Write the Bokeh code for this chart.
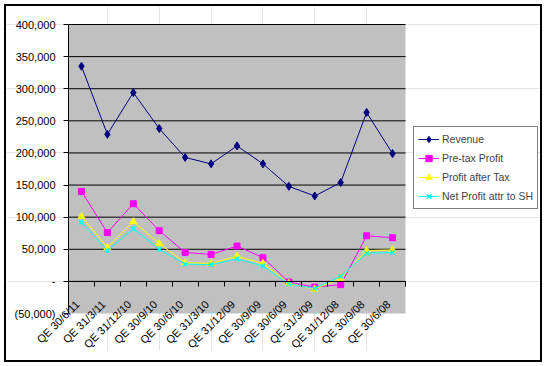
import math
from bokeh.plotting import figure
from bokeh.models import (ColumnDataSource, Range1d, FixedTicker, Legend, LegendItem, LinearAxis)
from bokeh.core.properties import value
from bokeh.embed import file_html
from bokeh.resources import INLINE

categories = ["QE 30/6/11", "QE 31/3/11", "QE 31/12/10", "QE 30/9/10", "QE 30/6/10",
              "QE 31/3/10", "QE 31/12/09", "QE 30/9/09", "QE 30/6/09", "QE 31/3/09",
              "QE 31/12/08", "QE 30/9/08", "QE 30/6/08"]
revenue = [335000, 229000, 294000, 238000, 193000, 183000, 211000, 183000, 148000, 133000, 154000, 263000, 199000]
pretax = [140000, 76000, 121000, 79000, 45000, 42000, 55000, 37000, -1000, -9000, -5000, 71000, 68000]
aftertax = [101000, 53000, 93000, 59000, 29000, 28000, 39000, 28000, -3000, -12000, 5000, 48000, 49000]
netprofit = [92000, 48000, 82000, 50000, 27000, 26000, 35000, 24000, -4000, -11000, 8000, 44000, 45000]
y_ticks = [-50000, 0, 50000, 100000, 150000, 200000, 250000, 300000, 350000, 400000]
series_names = ["Revenue", "Pre-tax Profit", "Profit after Tax", "Net Profit attr to SH"]

FONT = "Liberation Sans"
FS = "11px"

n = len(categories)
xs = list(range(1, n + 1))
y_min, y_max = y_ticks[0], y_ticks[-1]

# layout (pixels)
PLOT_W, PLOT_H = 337, 289          # gray plotting area
PLOT_LEFT, PLOT_TOP = 62, 18       # gray area offset inside the frame
FRAME_W, FRAME_H = 534, 344        # frame holds labels and legend too
x_start = 0.5 - PLOT_LEFT * n / PLOT_W
x_end = x_start + FRAME_W * n / PLOT_W
per_px = (y_max - y_min) / PLOT_H
y_end = y_max + PLOT_TOP * per_px
y_start = y_min - (FRAME_H - PLOT_H - PLOT_TOP) * per_px

p = figure(frame_width=FRAME_W, frame_height=FRAME_H,
           min_border_left=0, min_border_top=0, min_border_right=0, min_border_bottom=10,
           x_range=Range1d(x_start, x_end), y_range=Range1d(y_start, y_end),
           x_axis_location=None, y_axis_location=None,
           output_backend="svg", toolbar_location=None)
p.styles = {"margin-left": "4px", "margin-top": "4px", "border": "2px solid black"}

p.background_fill_color = "white"
p.border_fill_color = "white"
p.outline_line_color = None

# value axis at the left edge of the plotting area, ticks pointing left
yax = LinearAxis(fixed_location=0.5, bounds=(y_min, y_max),
                 ticker=FixedTicker(ticks=[], minor_ticks=y_ticks),
                 minor_tick_in=5, minor_tick_out=0, minor_tick_line_color="black",
                 major_tick_in=0, major_tick_out=0, axis_line_color="black")
p.add_layout(yax, "right")

# category axis at zero, ticks between categories
xax = LinearAxis(fixed_location=0, bounds=(0.5, n + 0.5),
                 ticker=FixedTicker(ticks=[], minor_ticks=[x + 0.5 for x in range(0, n + 1)]),
                 minor_tick_out=5, minor_tick_in=0, minor_tick_line_color="black",
                 major_tick_in=0, major_tick_out=0, axis_line_color="black")
p.add_layout(xax, "below")

# gray plotting area and gridlines
p.quad(left=[0.5], right=[n + 0.5], bottom=[y_min], top=[y_max],
       fill_color="#c0c0c0", line_color=None)
grid_vals = [t for t in y_ticks if t > y_min]
p.segment(x0=[0.5] * len(grid_vals), x1=[n + 0.5] * len(grid_vals), y0=grid_vals, y1=grid_vals,
          line_color="black", line_width=1)

def fmt(v):
    if v == 0:
        return "-"
    if v < 0:
        return "({:,})".format(-v)
    return "{:,}".format(v)

ysrc = ColumnDataSource(dict(x=[0.5] * len(y_ticks), y=y_ticks, t=[fmt(v) for v in y_ticks]))
p.text(x="x", y="y", text="t", source=ysrc, x_offset=-13, text_align="right",
       text_baseline="middle", text_font=value(FONT), text_font_size=FS, text_color="black")

src = ColumnDataSource(dict(x=xs, cat=categories, rev=revenue, pre=pretax, aft=aftertax,
                            net=netprofit, zero=[0] * n))

l1 = p.line("x", "rev", source=src, color="#000080", line_width=1)
m1 = p.scatter("x", "rev", source=src, marker="diamond", size=8, color="#000080")
l2 = p.line("x", "pre", source=src, color="#ff00ff", line_width=1)
m2 = p.scatter("x", "pre", source=src, marker="square", size=6, color="#ff00ff")
l3 = p.line("x", "aft", source=src, color="#ffff00", line_width=1)
m3 = p.scatter("x", "aft", source=src, marker="triangle", size=7, color="#ffff00")
l4 = p.line("x", "net", source=src, color="#00ffff", line_width=1)
m4 = p.scatter("x", "net", source=src, marker="x", size=6, color="#00ffff", line_width=1.5)

p.text(x="x", y="zero", text="cat", source=src, angle=math.pi / 4,
       text_align="right", text_baseline="middle", x_offset=-4, y_offset=21,
       text_font=value(FONT), text_font_size=FS, text_color="black")

legend = Legend(items=[LegendItem(label=series_names[0], renderers=[l1, m1]),
                       LegendItem(label=series_names[1], renderers=[l2, m2]),
                       LegendItem(label=series_names[2], renderers=[l3, m3]),
                       LegendItem(label=series_names[3], renderers=[l4, m4])],
                location=(407, 141), glyph_width=21, glyph_height=16, label_height=16,
                spacing=3, padding=4, label_standoff=3, margin=0,
                label_text_font=FONT, label_text_font_size="10.5px",
                border_line_color="black", border_line_width=1,
                background_fill_color="white", background_fill_alpha=1)
p.add_layout(legend)

open("out.html", "w").write(file_html(p, INLINE))
